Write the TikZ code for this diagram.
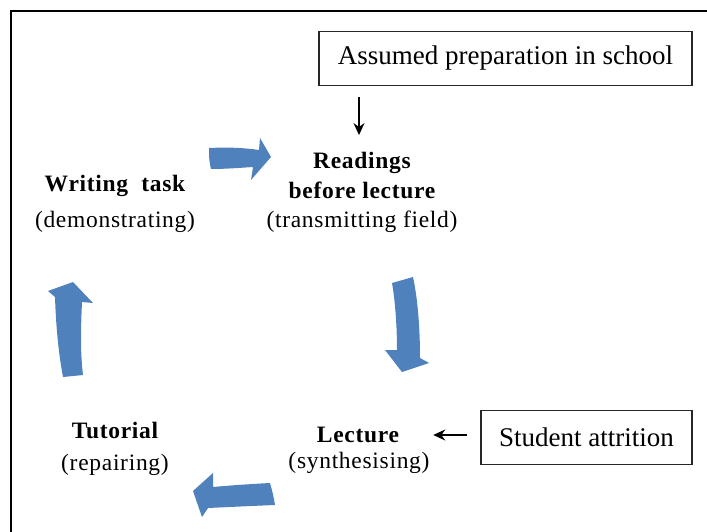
\documentclass[tikz,border=0pt]{standalone}
\usepackage{fontspec}
\setmainfont{Liberation Serif}
\usetikzlibrary{arrows.meta,calc}
\definecolor{cycleblue}{RGB}{79,129,189}
\begin{document}
\begin{tikzpicture}[x=1pt,y=-1pt,
  boxed/.style={draw=black!85,line width=1.3pt,minimum height=54pt,inner sep=0pt,font=\fontsize{27}{30}\selectfont},
  head/.style={font=\fontsize{23.5}{25}\selectfont\bfseries\addfontfeature{LetterSpace=3},inner sep=0pt},
  sub/.style={font=\fontsize{23.5}{25}\selectfont\addfontfeature{LetterSpace=3},inner sep=0pt},
  conn/.style={line width=1.2pt,-{Stealth[length=12pt,width=11pt]}},
  blockarrow/.style={fill=cycleblue,draw=none}]
\useasboundingbox (0,0) rectangle (707,532);
% outer frame
\draw[line width=2.6pt] (11,532) -- (11,11) -- (707,11);
% boxes
\node[boxed,minimum width=373pt] (assumed) at (505.5,58.5) {Assumed preparation in school};
\node[boxed,minimum width=211pt] (attrition) at (586.5,437.5) {Student attrition};
% labels
\node[head] (readings) at (362,163) {Readings};
\node[head] (before) at (362,190) {before lecture};
\node[sub] (transmit) at (362,222) {(transmitting field)};
\node[head] (writing) at (115,186) {Writing\ \ task};
\node[sub] (demo) at (115,222) {(demonstrating)};
\node[head] (lecture) at (358,435) {Lecture};
\node[sub] (synth) at (359,463) {(synthesising)};
\node[head] (tutorial) at (115,430) {Tutorial};
\node[sub] (repair) at (115,465) {(repairing)};
% connectors
\coordinate (a1) at (359,97);
\draw[conn] (a1) -- (a1 |- readings.north) [shorten >=17pt];
\coordinate (a2) at (467,435);
\draw[conn,shorten >=34pt] (a2) -- (a2 -| lecture.east);
% blue cycle arrows
\path[blockarrow] (209,148) .. controls (230,147) and (245,148) .. (259,150)
  -- (260,138) -- (271,157) -- (251,180) -- (253,167)
  .. controls (238,168) and (225,169) .. (211,169)
  .. controls (209,162) and (209,155) .. cycle;
\path[blockarrow] (392,283) -- (413,277)
  .. controls (418,300) and (420,330) .. (420,358)
  -- (429,363) -- (402,372) -- (385,350) -- (397,350)
  .. controls (397,325) and (395,300) .. cycle;
\path[blockarrow] (270,483) .. controls (272,490) and (274,498) .. (275,505)
  .. controls (250,506) and (230,507) .. (208,508)
  -- (202,517) -- (193,491) -- (213,473) -- (213,487)
  .. controls (235,485) and (252,484) .. cycle;
\path[blockarrow] (63,377) -- (83,375)
  .. controls (80,350) and (81,325) .. (82,302)
  -- (93,303) -- (73,282) -- (48,291) -- (55,297)
  .. controls (56,325) and (58,350) .. cycle;
\end{tikzpicture}
\end{document}
